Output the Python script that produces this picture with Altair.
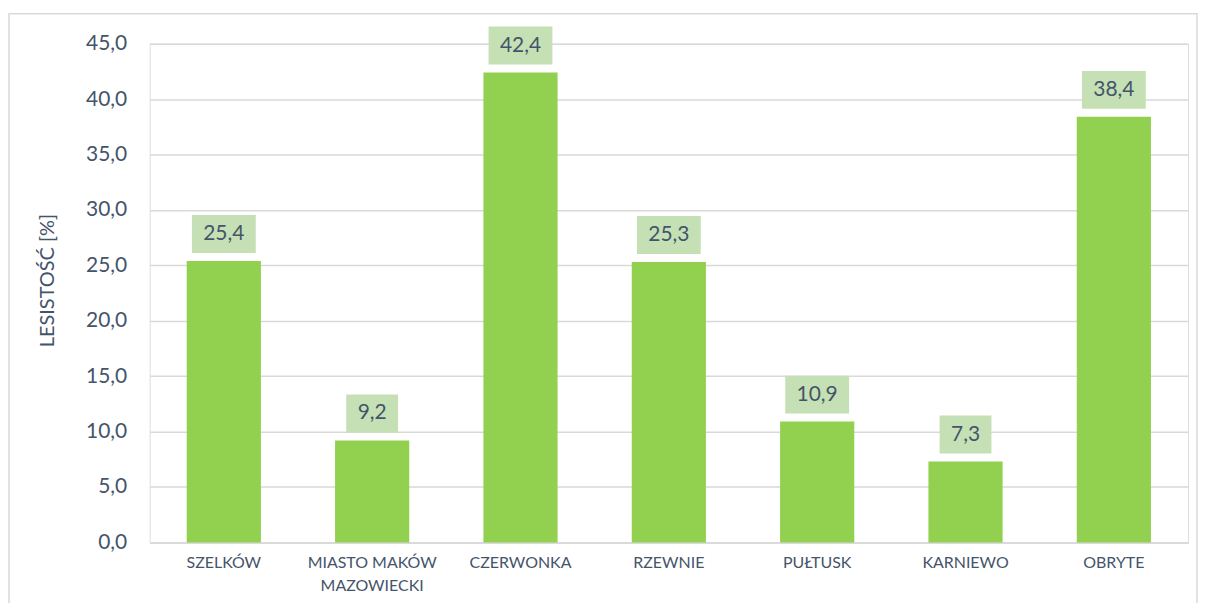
import altair as alt
import pandas as pd

categories = ["SZELKÓW", "MIASTO MAKÓW MAZOWIECKI", "CZERWONKA", "RZEWNIE", "PUŁTUSK", "KARNIEWO", "OBRYTE"]
values = [25.4, 9.2, 42.4, 25.3, 10.9, 7.3, 38.4]

df = pd.DataFrame({"cat": categories, "val": values})

FONT = "Lato"
TXT = "#44546A"
GRID = "#D9D9D9"

x_enc = alt.X(
    "cat:N",
    sort=categories,
    scale=alt.Scale(paddingInner=0.5, paddingOuter=0.25),
    axis=alt.Axis(
        title=None, labelAngle=0, ticks=False, domain=True, domainColor=GRID, domainWidth=1.5,
        labelPadding=12, labelFontSize=16, labelColor=TXT, labelFont=FONT, labelLineHeight=23,
        labelExpr="datum.label == 'MIASTO MAKÓW MAZOWIECKI' ? ['MIASTO MAKÓW', 'MAZOWIECKI'] : datum.label",
    ),
)
y_scale = alt.Scale(domain=[0, 45], nice=False)

base = alt.Chart(df).transform_calculate(
    lbl="replace(format(datum.val, '.1f'), '.', ',')",
    b0="datum.val + 0.72",
    b1="datum.val + 4.14",
    tm="datum.val + 2.43",
    n="length(replace(format(datum.val, '.1f'), '.', ','))",
)

bars = base.mark_bar(color="#92D050").encode(
    x=x_enc,
    y=alt.Y(
        "val:Q",
        scale=y_scale,
        axis=alt.Axis(
            title="LESISTOŚĆ [%]", values=[0, 5, 10, 15, 20, 25, 30, 35, 40, 45],
            labelExpr="replace(format(datum.value, '.1f'), '.', ',')",
            ticks=False, domain=False, grid=True, gridColor=GRID, gridWidth=1.5,
            labelPadding=23, labelFontSize=21, labelColor=TXT, labelFont=FONT,
            titleFont=FONT, titleFontSize=20, titleColor=TXT, titleFontWeight="normal",
            titleX=-102, titleY=237, titleAngle=-90, titleAlign="center", titleBaseline="middle",
        ),
    ),
)

box4 = base.transform_filter("datum.n >= 4").mark_bar(color="#C5E0B4", width=64).encode(
    x=alt.X("cat:N", sort=categories),
    y=alt.Y("b0:Q", scale=y_scale),
    y2="b1:Q",
)
box3 = base.transform_filter("datum.n < 4").mark_bar(color="#C5E0B4", width=52).encode(
    x=alt.X("cat:N", sort=categories),
    y=alt.Y("b0:Q", scale=y_scale),
    y2="b1:Q",
)
text = base.mark_text(font=FONT, fontSize=21, color=TXT, baseline="middle", align="center").encode(
    x=alt.X("cat:N", sort=categories),
    y=alt.Y("tm:Q", scale=y_scale),
    text="lbl:N",
)

frame = alt.Chart(pd.DataFrame({"a": [0]})).mark_rect(fill=None, stroke=GRID, strokeWidth=1.5).encode(
    x=alt.value(-141), x2=alt.value(1050), y=alt.value(-30), y2=alt.value(600)
)

chart = alt.layer(frame, bars, box4, box3, text).properties(
    width=1041, height=500,
    autosize=alt.AutoSizeParams(type="none"),
    padding={"left": 142, "top": 35, "right": 12, "bottom": 60},
).configure_view(stroke=None).configure(background="white")

chart.save("out.html", embed_options={"renderer": "svg", "actions": False})
